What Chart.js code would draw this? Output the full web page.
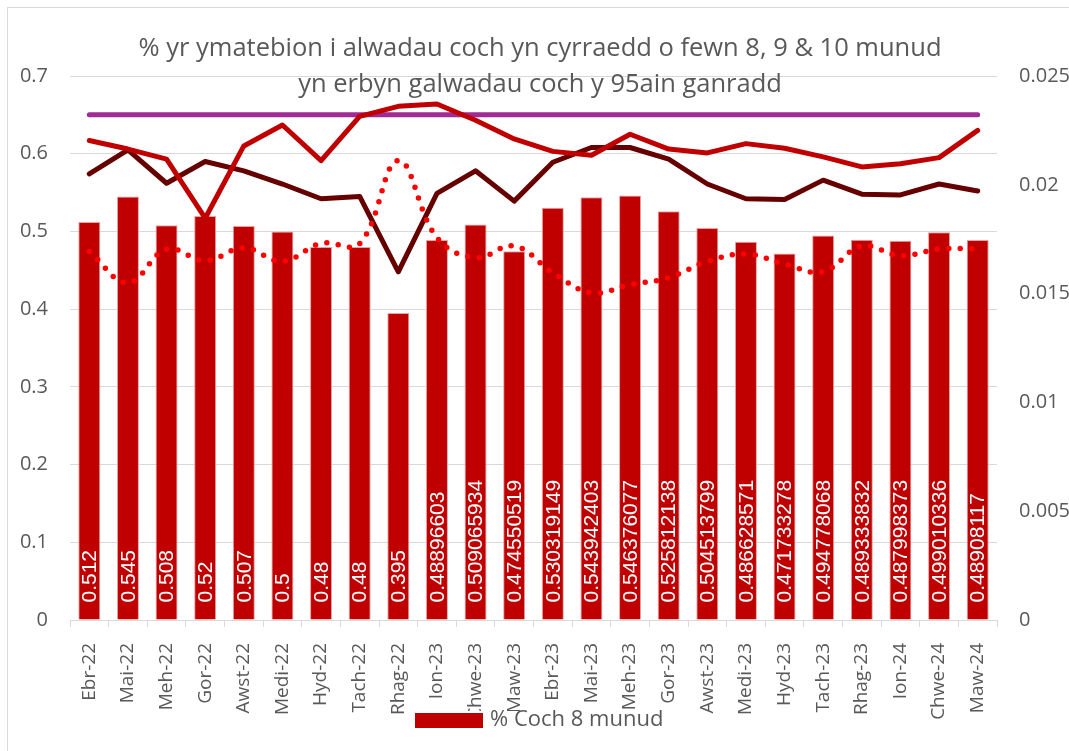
<!DOCTYPE html>
<html>
<head>
<meta charset="utf-8">
<script src="https://cdn.jsdelivr.net/npm/chart.js@4.4.1/dist/chart.umd.min.js"></script>
<style>
  html, body { margin: 0; padding: 0; background: #fff; overflow: hidden; }
  #wrap { position: relative; width: 1069px; height: 751px; }
  #frame { position: absolute; left: 7px; top: 7px; width: 1100px; height: 800px; border: 1px solid #d9d9d9; box-sizing: border-box; }
  canvas { position: absolute; left: 0; top: 0; }
</style>
</head>
<body>
<div id="wrap">
  <div id="frame"></div>
  <canvas id="chart" width="1069" height="751"></canvas>
</div>
<script>
const months = ["Ebr-22", "Mai-22", "Meh-22", "Gor-22", "Awst-22", "Medi-22", "Hyd-22", "Tach-22", "Rhag-22",
  "Ion-23", "Chwe-23", "Maw-23", "Ebr-23", "Mai-23", "Meh-23", "Gor-23", "Awst-23", "Medi-23", "Hyd-23",
  "Tach-23", "Rhag-23", "Ion-24", "Chwe-24", "Maw-24"];

// % Coch 8 munud (bars)
const coch8 = [0.512, 0.545, 0.508, 0.52, 0.507, 0.5, 0.48, 0.48, 0.395, 0.48896603, 0.509065934, 0.474550519,
  0.530319149, 0.543942403, 0.546376077, 0.525812138, 0.504513799, 0.486628571, 0.471733278, 0.494778068,
  0.489333832, 0.487998373, 0.499010336, 0.48908117];

// % Coch 9 munud (dark line)
const coch9 = [0.574, 0.605, 0.562, 0.590, 0.578, 0.561, 0.542, 0.545, 0.448, 0.549, 0.578, 0.539,
  0.589, 0.608, 0.608, 0.593, 0.561, 0.542, 0.541, 0.566, 0.548, 0.547, 0.561, 0.552];

// % Coch 10 munud (red line)
const coch10 = [0.617, 0.606, 0.593, 0.517, 0.610, 0.637, 0.591, 0.648, 0.661, 0.664, 0.643, 0.619,
  0.603, 0.598, 0.625, 0.606, 0.601, 0.613, 0.607, 0.596, 0.583, 0.587, 0.595, 0.630];

// target line
const targed = [0.65, 0.65, 0.65, 0.65, 0.65, 0.65, 0.65, 0.65, 0.65, 0.65, 0.65, 0.65,
  0.65, 0.65, 0.65, 0.65, 0.65, 0.65, 0.65, 0.65, 0.65, 0.65, 0.65, 0.65];

// 95ain ganradd (dotted, right axis)
const canradd95 = [0.01693, 0.0155, 0.01704, 0.01651, 0.0171, 0.01648, 0.01731, 0.0173, 0.02111,
  0.01757, 0.01665, 0.01719, 0.01596, 0.01504, 0.01541, 0.01573, 0.01648, 0.01682, 0.01636,
  0.01601, 0.01719, 0.01674, 0.01705, 0.01706];

const leftTicks = [0, 0.1, 0.2, 0.3, 0.4, 0.5, 0.6, 0.7];
const rightTicks = [0, 0.005, 0.01, 0.015, 0.02, 0.025];

const titleLines = ["% yr ymatebion i alwadau coch yn cyrraedd o fewn 8, 9 & 10 munud",
  "yn erbyn galwadau coch y 95ain ganradd"];
const legendText = "% Coch 8 munud";

const grey = "#595959";
const tickFont = { family: "'Open Sans'", size: 20 };

const extras = {
  id: "extras",
  afterDatasetsDraw(chart) {
    const ctx = chart.ctx;
    const meta = chart.getDatasetMeta(0);
    ctx.save();
    ctx.fillStyle = "#fff";
    ctx.font = "21px 'Liberation Sans'";
    ctx.textAlign = "left";
    ctx.textBaseline = "middle";
    meta.data.forEach((bar, i) => {
      ctx.save();
      ctx.translate(bar.x + 1, bar.base - 17);
      ctx.rotate(-Math.PI / 2);
      ctx.fillText(String(coch8[i]), 0, 0);
      ctx.restore();
    });
    ctx.restore();
  },
  afterDraw(chart) {
    const ctx = chart.ctx;
    ctx.save();
    // title
    ctx.fillStyle = grey;
    ctx.font = "25.5px 'Open Sans'";
    ctx.textAlign = "center";
    ctx.textBaseline = "alphabetic";
    ctx.fillText(titleLines[0], 540, 56);
    ctx.fillText(titleLines[1], 540, 92);
    // legend (sits over the axis labels like the original)
    ctx.fillStyle = "#fff";
    ctx.fillRect(410, 711, 265, 25);
    ctx.fillStyle = "#C00000";
    ctx.fillRect(415, 713, 68, 15);
    ctx.fillStyle = grey;
    ctx.font = "22px 'Open Sans'";
    ctx.textAlign = "left";
    ctx.textBaseline = "middle";
    ctx.fillText(legendText, 490, 720);
    ctx.restore();
  }
};

new Chart(document.getElementById("chart"), {
  type: "bar",
  data: {
    labels: months,
    datasets: [
      {
        type: "bar",
        label: legendText,
        data: coch8,
        backgroundColor: "#C00000",
        borderColor: "#E6A3A3",
        borderWidth: 1,
        barPercentage: 0.57,
        categoryPercentage: 1,
        yAxisID: "y",
        order: 5
      },
      {
        type: "line",
        label: "Targed",
        data: targed,
        borderColor: "#A02B93",
        borderWidth: 5,
        borderCapStyle: "round",
        pointRadius: 0,
        yAxisID: "y",
        order: 4
      },
      {
        type: "line",
        label: "% Coch 9 munud",
        data: coch9,
        borderColor: "#660000",
        borderWidth: 5,
        borderCapStyle: "round",
        borderJoinStyle: "round",
        pointRadius: 0,
        yAxisID: "y",
        order: 3
      },
      {
        type: "line",
        label: "95ain ganradd",
        data: canradd95,
        borderColor: "#FF0000",
        borderWidth: 5.5,
        borderDash: [0, 11.5],
        borderCapStyle: "round",
        tension: 0.4,
        pointRadius: 0,
        yAxisID: "y2",
        order: 2
      },
      {
        type: "line",
        label: "% Coch 10 munud",
        data: coch10,
        borderColor: "#C00000",
        borderWidth: 5,
        borderCapStyle: "round",
        borderJoinStyle: "round",
        pointRadius: 0,
        yAxisID: "y",
        order: 1
      }
    ]
  },
  options: {
    responsive: false,
    animation: false,
    devicePixelRatio: 1,
    layout: { padding: { top: 76, left: 0, right: 0, bottom: 0 } },
    plugins: {
      legend: { display: false },
      title: { display: false },
      tooltip: { enabled: false }
    },
    scales: {
      x: {
        offset: true,
        grid: { display: true, drawOnChartArea: false, drawTicks: true, tickLength: 7, color: "#d9d9d9", offset: true },
        border: { display: true, color: "#d9d9d9", width: 1 },
        ticks: { color: grey, font: { family: "'Open Sans'", size: 19 }, minRotation: 90, maxRotation: 90, padding: 16, autoSkip: false },
        afterFit: (s) => { s.height = 131; }
      },
      y: {
        position: "left",
        min: 0,
        max: 0.7,
        afterBuildTicks: (s) => { s.ticks = leftTicks.map((v) => ({ value: v })); },
        grid: { color: "#d9d9d9", drawTicks: false },
        border: { display: false },
        ticks: { color: grey, font: tickFont, padding: 22, callback: (v) => String(+v.toFixed(3)) },
        afterFit: (s) => { s.width = 70; }
      },
      y2: {
        position: "right",
        min: 0,
        max: 0.025,
        afterBuildTicks: (s) => { s.ticks = rightTicks.map((v) => ({ value: v })); },
        grid: { display: false, drawTicks: false },
        border: { display: false },
        ticks: { color: grey, font: tickFont, padding: 22, callback: (v) => String(+v.toFixed(4)) },
        afterFit: (s) => { s.width = 72; }
      }
    }
  },
  plugins: [extras]
});
</script>
</body>
</html>
